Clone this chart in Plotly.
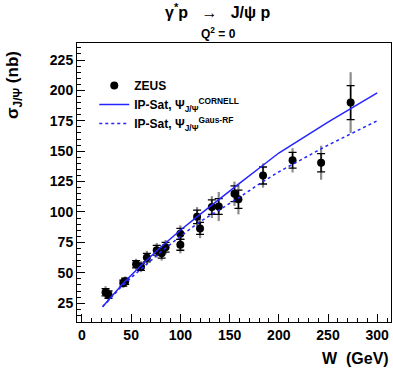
import plotly.graph_objects as go

# ZEUS data
W_data = [24, 27, 42, 44, 55, 60, 66, 76, 81, 85, 100, 100, 117, 120, 132, 139, 155, 159, 184, 214, 243, 273]
sig_data = [34, 32, 41.5, 43, 57, 55, 62.5, 68.5, 66, 71, 82, 73, 96, 86.5, 104, 104.5, 115, 110.5, 130, 142.5, 140.5, 190]
err_stat = [3, 3, 2.5, 2.5, 3, 3, 3.5, 4, 4, 4, 4.5, 4.5, 5.5, 5, 6, 6.5, 6.5, 7.5, 7, 6.5, 7.5, 14]
err_tot = [5, 5, 4, 4, 4.5, 4.5, 5.5, 6, 6, 6, 7, 7, 8, 8, 9, 12, 10, 12.5, 10, 10, 14, 25]

# IP-Sat curves
W_curve = [21, 30, 40, 50, 60, 80, 100, 120, 140, 160, 180, 200, 250, 300]
sig_cornell = [22, 30.5, 39.5, 48, 56, 71, 85, 98, 111, 123.5, 136, 148.5, 174, 198]
sig_gaus = [22, 30, 38.5, 46, 53, 67, 80, 92, 102, 112, 123, 133, 155, 175]

FONT = "Liberation Sans"
blue = "#2424ff"

fig = go.Figure()

fig.add_trace(go.Scatter(
    x=W_data, y=sig_data, mode="markers", showlegend=False,
    marker=dict(color="rgba(0,0,0,0)", size=1),
    error_y=dict(type="data", array=err_tot, color="rgba(0,0,0,0.45)", thickness=2.2, width=0),
    hoverinfo="skip"))
fig.add_trace(go.Scatter(
    x=W_data, y=sig_data, mode="markers", name="ZEUS",
    marker=dict(color="black", size=8),
    error_y=dict(type="data", array=err_stat, color="black", thickness=1.3, width=4)))
fig.add_trace(go.Scatter(
    x=W_curve, y=sig_cornell, mode="lines",
    name="IP-Sat, Ψ<sub>J/Ψ</sub><sup>CORNELL</sup>",
    line=dict(color=blue, width=1.5)))
fig.add_trace(go.Scatter(
    x=W_curve, y=sig_gaus, mode="lines",
    name="IP-Sat, Ψ<sub>J/Ψ</sub><sup>Gaus-RF</sup>",
    line=dict(color=blue, width=1.5, dash="3px,3px")))

axis_common = dict(
    showline=True, linecolor="black", linewidth=1, mirror=True,
    ticks="inside", ticklen=8, tickcolor="black", tickwidth=1,
    showgrid=False, zeroline=False,
    tickfont=dict(family=FONT, size=14, color="black", weight="bold"),
)

fig.update_layout(
    width=393, height=377,
    margin=dict(l=77, r=2, t=43, b=55),
    paper_bgcolor="white", plot_bgcolor="white",
    font=dict(family=FONT, color="black"),
    xaxis=dict(range=[-5, 314], tickvals=[0, 50, 100, 150, 200, 250, 300],
               minor=dict(ticks="inside", ticklen=4, dtick=10, tick0=0, tickcolor="black"),
               **axis_common),
    yaxis=dict(range=[9.5, 239], tickvals=[25, 50, 75, 100, 125, 150, 175, 200, 225],
               minor=dict(ticks="inside", ticklen=4, dtick=5, tick0=0, tickcolor="black"),
               **axis_common),
    legend=dict(x=0.055, y=0.9, xanchor="left", yanchor="top",
                bgcolor="rgba(0,0,0,0)", borderwidth=0,
                font=dict(family=FONT, size=12, color="black", weight="bold"),
                itemwidth=30, tracegroupgap=0),
    annotations=[
        dict(text="γ<sup>*</sup>p   →   J/ψ p", xref="paper", yref="paper",
             x=0.45, y=1.115, xanchor="center", yanchor="middle", showarrow=False,
             font=dict(family=FONT, size=16, color="black", weight="bold")),
        dict(text="Q<sup>2</sup> = 0", xref="paper", yref="paper",
             x=0.45, y=1.036, xanchor="center", yanchor="middle", showarrow=False,
             font=dict(family=FONT, size=12, color="black", weight="bold")),
        dict(text="W  (GeV)", xref="paper", yref="paper",
             x=1.0, y=-0.13, xanchor="right", yanchor="middle", showarrow=False,
             font=dict(family=FONT, size=16, color="black", weight="bold")),
        dict(text="σ<sub>J/Ψ</sub> (nb)", xref="paper", yref="paper",
             x=-0.2, y=0.85, xanchor="center", yanchor="middle", textangle=-90, showarrow=False,
             font=dict(family=FONT, size=17, color="black", weight="bold")),
    ],
)

fig.write_html("out.html")
